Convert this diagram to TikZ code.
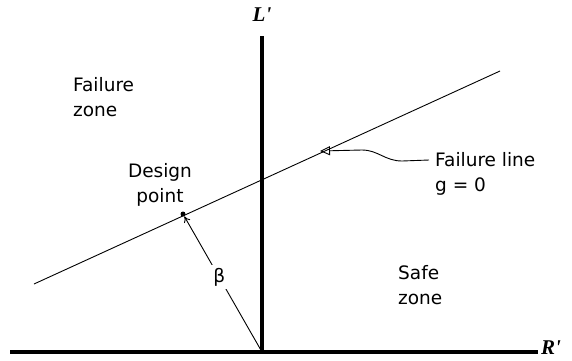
\documentclass[tikz,border=0pt]{standalone}
\usepackage{fontspec}
\setmainfont{DejaVu Sans}
\newfontfamily\axisfont{Liberation Serif}
\usepackage{tikz}
\usetikzlibrary{arrows.meta, positioning}

\begin{document}
\begin{tikzpicture}[x=1pt, y=-1pt, font=\fontsize{18.5}{25}\selectfont, align=left]
    % Define styles
    \tikzstyle{axis} = [line width=3.5pt]
    \tikzstyle{axislabel} = [font=\axisfont\fontsize{21}{23}\selectfont\bfseries\itshape, inner sep=0pt]
    \tikzstyle{zone} = [inner sep=0pt, anchor=west]
    \tikzstyle{thin} = [line width=0.9pt]
    \useasboundingbox (0,0) rectangle (572,360);

    % Axes
    \coordinate (xstart) at (10,352);
    \coordinate (origin) at (262,352);
    \coordinate (xend) at (538,352);
    \coordinate (ytop) at (262,36);
    \node (rlabel) [axislabel, anchor=west] at (541,348) {R'};
    \node (llabel) [axislabel] at (262,15) {L'};
    \draw [axis] (xstart) -- (xend);
    \draw [axis] (origin) -- (ytop);

    % Failure line
    \coordinate (fstart) at (34,284);
    \coordinate (fend) at (500,71);
    \coordinate (tip) at (320,151);
    \draw [thin] (fstart) -- (fend);

    % Nodes
    \node (failzone) [zone] at (73,97) {Failure\\zone};
    \node (safezone) [zone] at (398,285) {Safe\\zone};
    \node (design) [align=center, inner sep=0pt] at (160,185) {Design\\point};
    \node (dp) [circle, fill=black, inner sep=0pt, minimum size=5pt] at (183,214) {};
    \node (fline) [inner sep=0pt, anchor=west] at (435,160) {Failure line};
    \node (gzero) [inner sep=0pt, below=27pt of fline.west, anchor=west] {g = 0};

    % Arrows
    \draw [thin, -{To[length=6pt, width=7pt]}] (origin) -- node[fill=white, pos=0.55, inner sep=3pt] (beta) {β} (dp);
    \draw [thin, -{Triangle[open, length=10pt, width=9pt]}] ([xshift=-6pt]fline.west) -- (402,161) .. controls (385,161) and (378,150) .. (362,150) -- (tip);
\end{tikzpicture}
\end{document}
